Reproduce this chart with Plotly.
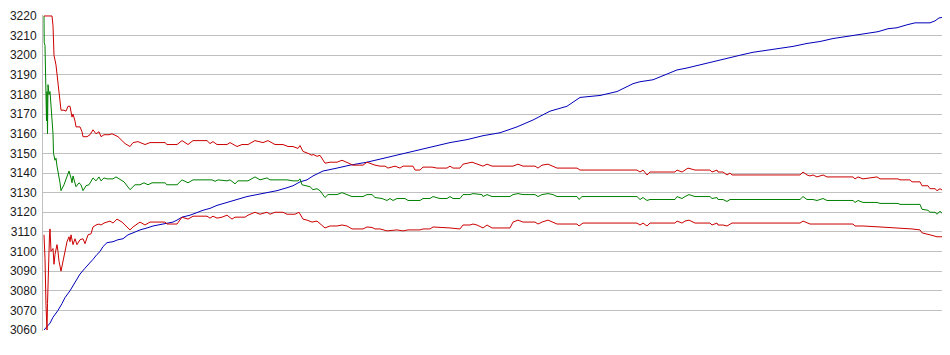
import plotly.graph_objects as go

# sample index (x) and price values
upper_x = [1, 9, 10, 11, 13, 14, 16, 17, 18, 21, 23, 25, 27, 29, 30, 32, 33, 37, 39, 40, 44, 47, 50, 53, 56, 58, 61, 66, 69, 75,
           82, 87, 90, 95, 102, 107, 122, 124, 134, 139, 145, 150, 164, 167, 170, 174, 184, 187, 194, 199, 205, 212, 220, 225,
           232, 240, 245, 250, 255, 257, 260, 265, 269, 270, 274, 277, 282, 287, 294, 299, 305, 310, 320, 324, 332, 337, 342,
           345, 352, 357, 360, 370, 372, 377, 380, 389, 394, 404, 407, 410, 417, 420, 429, 434, 440, 444, 449, 470, 475, 480,
           492, 495, 499, 505, 510, 514, 534, 537, 540, 594, 597, 600, 604, 607, 632, 634, 639, 642, 645, 652, 667, 669, 674,
           675, 680, 684, 687, 689, 757, 760, 764, 767, 770, 774, 780, 784, 810, 812, 815, 820, 834, 837, 855, 857, 867, 869,
           877, 879, 885, 887, 892, 894, 897, 900, 902, 904]
upper_y = [3220, 3220, 3215, 3200, 3195, 3190, 3180, 3175, 3172, 3172, 3171.5, 3174, 3174, 3168.5, 3170, 3166.5, 3163.5,
           3163.5, 3161, 3158.5, 3158.5, 3159.5, 3162, 3160, 3161, 3158.5, 3159.5, 3159.5, 3160, 3158.5, 3155, 3153.5, 3155.5,
           3156, 3154.5, 3155.5, 3155.5, 3154.5, 3154.5, 3156.5, 3154.5, 3156.5, 3156.5, 3155, 3156, 3154.5, 3154.5, 3155.5,
           3153.5, 3154.5, 3154.5, 3156.5, 3155.5, 3156.5, 3154.5, 3154.5, 3153.5, 3153.5, 3152.5, 3154, 3151, 3150, 3149,
           3149.5, 3148.5, 3149, 3145, 3145.5, 3145.5, 3146.5, 3145, 3144, 3144, 3145.5, 3144, 3143.5, 3143.5, 3142.5, 3143.5,
           3142.5, 3143.5, 3143.5, 3141.5, 3141.5, 3143, 3143, 3142.5, 3142.5, 3143.5, 3142.5, 3142.5, 3144.5, 3145.5, 3144.5,
           3143.5, 3144.5, 3143.5, 3143.5, 3144.5, 3143.5, 3143.5, 3142.5, 3144, 3144.5, 3143.5, 3142.5, 3142.5, 3141.5,
           3141.5, 3141.5, 3140.5, 3141.5, 3139, 3140.5, 3140.5, 3141.5, 3140.5, 3141.5, 3142.5, 3141.5, 3141.5, 3140.5,
           3141.5, 3140.5, 3140.5, 3139, 3140, 3139, 3139, 3140.5, 3139, 3138.5, 3139, 3138, 3139, 3138, 3138, 3137, 3138,
           3137, 3138, 3137, 3137, 3136.5, 3136.5, 3135.5, 3135.5, 3133.5, 3133.5, 3132, 3132, 3131, 3132, 3131, 3131, 3135]

mid_x = [1, 1.2, 2, 3, 3.5, 4, 4.5, 5, 6, 7, 8, 9, 10, 10.5, 12, 13, 14, 17, 18, 21, 24, 26, 28, 29, 30, 32, 33, 36, 38, 40,
         43, 46, 50, 53, 56, 58, 61, 64, 70, 73, 76, 81, 87, 92, 97, 101, 105, 109, 122, 124, 134, 139, 145, 150, 169, 172,
         175, 184, 187, 192, 195, 205, 212, 217, 224, 227, 244, 250, 255, 257, 259, 264, 267, 270, 274, 277, 282, 285, 294,
         299, 304, 309, 320, 324, 329, 332, 339, 344, 347, 350, 354, 362, 365, 377, 380, 387, 390, 397, 404, 407, 410, 417,
         420, 427, 430, 439, 440, 444, 449, 467, 470, 475, 480, 492, 495, 499, 505, 510, 514, 534, 536, 539, 594, 597, 600,
         604, 607, 632, 634, 639, 642, 646, 652, 667, 669, 674, 675, 680, 684, 687, 757, 760, 764, 767, 770, 774, 780, 784,
         810, 812, 815, 820, 834, 837, 855, 857, 877, 879, 885, 887, 892, 894, 897, 900, 902, 904]
mid_y = [3220, 3206.5, 3205, 3175, 3166.5, 3181.5, 3160, 3185, 3180, 3181.5, 3175, 3166.5, 3160, 3150, 3146.5, 3147.5,
         3143.5, 3135, 3131, 3134, 3138.5, 3141, 3137.5, 3135, 3138.5, 3135, 3133, 3135, 3134, 3131, 3133.5, 3134, 3137.5,
         3136, 3138, 3136, 3137.5, 3137, 3137, 3138, 3137, 3135.5, 3131.5, 3134, 3134, 3135, 3134, 3135, 3135, 3134, 3134,
         3136.5, 3135, 3136.5, 3136.5, 3135.75, 3136.5, 3136, 3136.5, 3134.5, 3136, 3136, 3138, 3136.5, 3137.5, 3136.5,
         3136.5, 3136, 3136, 3137, 3134, 3133.5, 3133, 3131.5, 3132, 3131, 3127.5, 3129, 3129, 3130, 3129, 3128, 3128, 3129,
         3129, 3127.5, 3127, 3126, 3127, 3126, 3127, 3127, 3126, 3126, 3127, 3127, 3128, 3127, 3127, 3128, 3127, 3127, 3129,
         3129, 3129.5, 3129, 3128, 3129, 3128, 3128, 3129, 3129.5, 3129, 3129, 3128, 3129, 3129.5, 3129, 3128, 3128, 3126.5,
         3128, 3128, 3126.5, 3127.5, 3126, 3126.5, 3126.5, 3128, 3127, 3128, 3129, 3128, 3128, 3127, 3127.5, 3126.5, 3126.5,
         3125.5, 3126.5, 3126.5, 3128, 3126.5, 3126.5, 3126.5, 3126, 3127, 3126, 3126, 3125, 3126, 3125, 3125, 3124.5,
         3124.5, 3124, 3124, 3121.5, 3121, 3120, 3120, 3119, 3120.5, 3119, 3119, 3124]

lower_x = [1, 2, 3, 4, 4.5, 5, 6, 6.5, 7, 8, 10, 11, 12, 14, 15, 16, 18, 20, 22, 24, 26, 27, 28, 30, 32, 34, 37, 40, 42, 45,
           48, 50, 53, 56, 58, 61, 64, 67, 70, 74, 79, 82, 87, 90, 97, 102, 107, 122, 124, 134, 139, 145, 150, 164, 167, 170,
           174, 179, 184, 189, 192, 202, 205, 212, 217, 224, 227, 232, 240, 244, 252, 256, 260, 264, 269, 274, 277, 282, 287,
           294, 299, 304, 309, 320, 324, 329, 332, 337, 344, 354, 360, 365, 377, 380, 387, 390, 407, 417, 420, 427, 430, 434,
           440, 444, 449, 467, 470, 475, 480, 492, 495, 499, 505, 510, 514, 534, 536, 540, 594, 597, 600, 604, 607, 632, 634,
           639, 642, 646, 652, 667, 669, 674, 675, 680, 684, 689, 757, 760, 764, 767, 784, 810, 812, 820, 837, 857, 869, 877,
           879, 887, 894, 900, 902, 904]
lower_y = [3108.5, 3096.5, 3072.5, 3060, 3073.5, 3085, 3098, 3108.5, 3111.5, 3100, 3101.5, 3093.5, 3098.5, 3103.5, 3100,
           3095, 3090, 3095, 3101.5, 3105, 3107.5, 3105, 3108.5, 3103.5, 3106.5, 3103.5, 3106, 3106.5, 3104, 3108.5, 3109,
           3112.5, 3113.5, 3114, 3113.5, 3114.5, 3115, 3115.5, 3114.5, 3116.5, 3115, 3113.5, 3111, 3112.5, 3115, 3113.5, 3115,
           3115, 3114, 3114, 3117.5, 3116.5, 3118, 3118, 3117, 3118, 3117, 3117.5, 3118.5, 3116.5, 3117.5, 3117.5, 3118.5,
           3120, 3119, 3120, 3119, 3120, 3120, 3119, 3119, 3120, 3116.5, 3116, 3115, 3115.5, 3114, 3112, 3113, 3113, 3113.5,
           3113, 3111.5, 3111.5, 3112.5, 3112.25, 3111.5, 3111.5, 3110.5, 3111, 3110.5, 3111, 3111, 3111.5, 3111.5, 3112.5,
           3112, 3111.5, 3113.5, 3113.5, 3114, 3113.5, 3112, 3113.5, 3112, 3112, 3115, 3116, 3115, 3115, 3114, 3115, 3116,
           3115, 3114, 3114, 3113, 3114.5, 3114.5, 3113.5, 3114.5, 3113, 3114.5, 3114.5, 3115.5, 3114.5, 3115.5, 3116, 3114.5,
           3114.5, 3113.5, 3114.5, 3113.5, 3113.5, 3113, 3114.5, 3114.5, 3115.5, 3114.5, 3114, 3114, 3114, 3113, 3113, 3112.5,
           3112, 3111.5, 3111, 3109.5, 3108.5, 3107.5, 3107.5, 3107.5, 3113]

blue_x = [1, 4, 7, 10, 15, 19, 22, 27, 32, 37, 42, 47, 50, 54, 57, 60, 64, 70, 75, 80, 85, 90, 97, 104, 110, 120, 130, 134,
          139, 147, 154, 160, 167, 174, 184, 194, 204, 214, 224, 234, 244, 250, 257, 264, 270, 280, 294, 307, 324, 340, 357,
          374, 390, 407, 424, 440, 457, 474, 490, 507, 524, 537, 557, 574, 590, 597, 610, 624, 634, 644, 657, 670, 684, 697,
          710, 724, 737, 750, 764, 777, 790, 804, 817, 824, 835, 845, 854, 864, 872, 887, 892, 896, 902, 904]
blue_y = [3060, 3061.5, 3063.5, 3066.5, 3070, 3073.5, 3076.5, 3080, 3084, 3088.5, 3091.5, 3094, 3096, 3098.5, 3100, 3102.5,
          3104.5, 3105, 3106, 3106.5, 3108.5, 3109.5, 3111, 3112, 3113, 3114, 3115, 3116, 3117.5, 3118.5, 3120, 3121, 3122,
          3123.5, 3125, 3126.5, 3128, 3129, 3130, 3131, 3132.5, 3133.5, 3135.5, 3136.5, 3138.5, 3141, 3142.5, 3144, 3145.5,
          3147.5, 3149.5, 3151.5, 3153.5, 3155.5, 3157, 3159, 3160.5, 3163.5, 3167, 3171.5, 3174, 3178.5, 3179.5, 3181.5,
          3185.5, 3186.5, 3187.5, 3190.5, 3192.5, 3193.5, 3195, 3196.5, 3198.5, 3200, 3201.5, 3202.5, 3203.5, 3204.5, 3206,
          3207, 3208.5, 3209.5, 3210.5, 3211, 3212, 3213.5, 3214, 3215.5, 3216.5, 3216.5, 3217.5, 3219, 3219.5, 3220.5]

y_ticks = [3060, 3070, 3080, 3090, 3100, 3110, 3120, 3130, 3140, 3150, 3160, 3170, 3180, 3190, 3200, 3210, 3220]

RED = "#cc0000"
GREEN = "#008000"
BLUE = "#0000bb"

fig = go.Figure()
fig.add_trace(go.Scatter(x=blue_x, y=blue_y, mode="lines", line=dict(color=BLUE, width=1)))
fig.add_trace(go.Scatter(x=mid_x, y=mid_y, mode="lines", line=dict(color=GREEN, width=1)))
fig.add_trace(go.Scatter(x=upper_x, y=upper_y, mode="lines", line=dict(color=RED, width=1)))
fig.add_trace(go.Scatter(x=lower_x, y=lower_y, mode="lines", line=dict(color=RED, width=1)))

# the page body has an 8px margin, so the figure is sized to land on the reference's pixels
fig.update_layout(
    width=942, height=347,
    margin=dict(l=35, r=2, t=1, b=24),
    paper_bgcolor="white", plot_bgcolor="white",
    showlegend=False,
    font=dict(family="Liberation Sans", size=12, color="#1a1a1a"),
)
fig.update_xaxes(range=[0, 905], showgrid=False, zeroline=False, showticklabels=False, showline=False, ticks="")
fig.update_yaxes(range=[3059.5, 3220.5], tickmode="array", tickvals=y_ticks, ticktext=[str(v) for v in y_ticks],
                 showgrid=True, gridcolor="#c0c0c0", gridwidth=1, zeroline=False,
                 showline=True, linecolor="#c0c0c0", linewidth=1, ticks="", ticklabelstandoff=3,
                 ticklabeloverflow="allow")

fig.write_html("out.html")
